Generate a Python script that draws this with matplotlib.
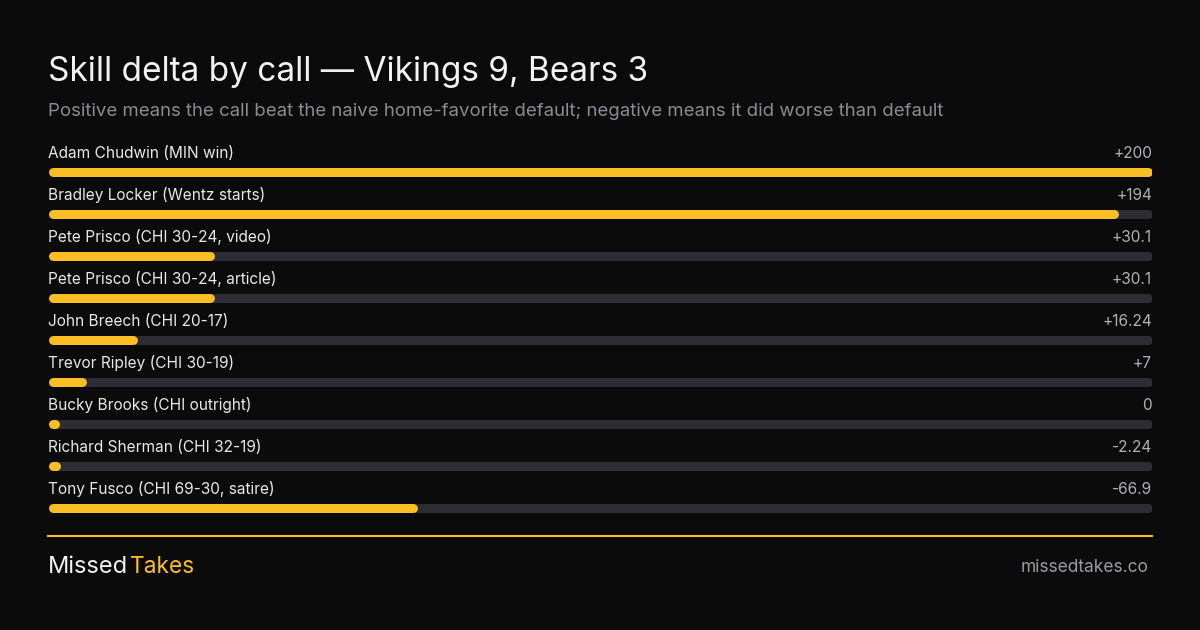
import numpy as np
import matplotlib.pyplot as plt

# Data
labels = ["Adam Chudwin (MIN win)", "Bradley Locker (Wentz starts)",
          "Pete Prisco (CHI 30-24, video)", "Pete Prisco (CHI 30-24, article)",
          "John Breech (CHI 20-17)", "Trevor Ripley (CHI 30-19)",
          "Bucky Brooks (CHI outright)", "Richard Sherman (CHI 32-19)",
          "Tony Fusco (CHI 69-30, satire)"]
values = [200, 194, 30.1, 30.1, 16.24, 7, 0, -2.24, -66.9]
value_text = ["+200", "+194", "+30.1", "+30.1", "+16.24", "+7", "0", "-2.24", "-66.9"]

BG = "#0b0b0b"
YELLOW = "#fbbf24"
TRACK = "#2e2c35"
W, H = 1200, 630

plt.rcParams['font.family'] = ['Inter', 'DejaVu Sans']

fig = plt.figure(figsize=(12, 6.3), dpi=100, facecolor=BG)

def fx(px):
    return px / W

def fy(py):
    return 1 - py / H

# title / subtitle
fig.text(fx(48), fy(72), "Skill delta by call \u2014 Vikings 9, Bears 3",
         color="#f2f2f2", fontsize=24, va="center", ha="left")
fig.text(fx(48), fy(111), "Positive means the call beat the naive home-favorite default; "
         "negative means it did worse than default",
         color="#8b8a93", fontsize=13.4, va="center", ha="left")

# bar area: row i bar centered at 172 + 42*i px
n = len(values)
ax = fig.add_axes([fx(48), fy(151 + 42 * n), fx(1104), 42 * n / H])
ax.set_facecolor(BG)
ax.set_xlim(0, 200)
ax.set_ylim(n - 0.5, -0.5)
ax.axis("off")

vmax = max(abs(v) for v in values)
lw_px = 9
cap = lw_px / 2 / 1104 * 200  # round cap size in data units
min_w = 11 / 1104 * 200       # smallest visible fill (a dot)

for i, (lab, v, vt) in enumerate(zip(labels, values, value_text)):
    ax.plot([cap, 200 - cap], [i, i], color=TRACK, lw=lw_px * 0.72,
            solid_capstyle="round")
    w = max(abs(v) / vmax * 200, min_w)
    ax.plot([cap, w - cap], [i, i], color=YELLOW,
            lw=lw_px * 0.72, solid_capstyle="round")
    ax.text(0, i - 19 / 42, lab, color="#e8e8e8", fontsize=11.1,
            va="center", ha="left")
    ax.text(200, i - 19 / 42, vt, color="#b0b0b6", fontsize=11.1,
            va="center", ha="right")

# footer
fig.add_artist(plt.Line2D([fx(48), fx(1152)], [fy(535.5), fy(535.5)],
                          color=YELLOW, lw=1.5))
t1 = fig.text(fx(48), fy(567), "Missed", color="#f2f2f2", fontsize=17,
              va="center", ha="left")
fig.add_artist(plt.Annotation("Takes", xy=(1, 0.5), xycoords=t1,
                              xytext=(1.5, 0), textcoords="offset points",
                              color=YELLOW, fontsize=16.3, va="center", ha="left"))
fig.text(fx(1148), fy(567), "missedtakes.co", color="#9a9aa2", fontsize=12.5,
         va="center", ha="right")

fig.savefig("out.png", dpi=100, facecolor=BG)
